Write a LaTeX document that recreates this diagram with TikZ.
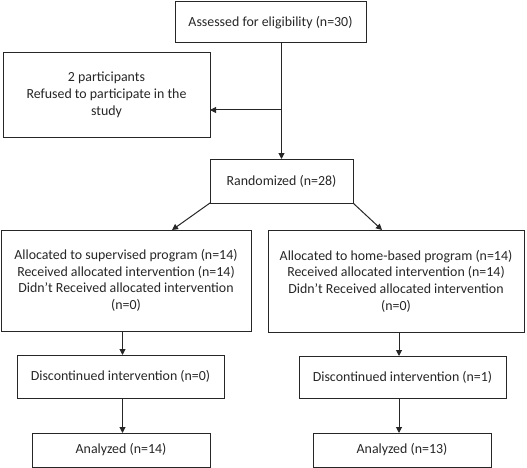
\documentclass[tikz,border=0pt]{standalone}
\usepackage{fontspec}
\defaultfontfeatures{}
\setmainfont{Carlito}
\usetikzlibrary{arrows.meta}
\begin{document}
\begin{tikzpicture}[x=1pt,y=-1pt,
  box/.style={draw=black!85, line width=1pt, inner sep=0pt, outer sep=0pt, align=center,
    text=black!85, font=\fontsize{13.9}{16.7}\selectfont},
  arr/.style={draw=black!85, line width=1pt, -{Triangle[length=6pt,width=6pt]}},
  ln/.style={draw=black!85, line width=1pt}]
\useasboundingbox (0,0) rectangle (527,468);
\node[box, minimum width=191pt, minimum height=41pt] (assess) at (270.5,22.5) {Assessed for eligibility (n=30)};
\node[box, minimum width=207pt, minimum height=84pt] (refused) at (106.5,95) {2 participants\\Refused to participate in the\\study};
\node[box, minimum width=143pt, minimum height=44pt] (rand) at (281.5,181) {Randomized (n=28)};
\node[box, minimum width=250pt, minimum height=101pt] (allocL) at (126,280.5) {Allocated to supervised program (n=14)\\Received allocated intervention (n=14)\\Didn't Received allocated intervention\\(n=0)};
\node[box, minimum width=256pt, minimum height=102pt] (allocR) at (396,281) {Allocated to home-based program (n=14)\\Received allocated intervention (n=14)\\Didn't Received allocated intervention\\(n=0)};
\node[box, minimum width=207pt, minimum height=43pt] (discL) at (120.5,376.5) {Discontinued intervention (n=0)};
\node[box, minimum width=207pt, minimum height=42pt] (discR) at (402.5,377) {Discontinued intervention (n=1)};
\node[box, minimum width=178pt, minimum height=34pt] (anL) at (121,450) {Analyzed (n=14)};
\node[box, minimum width=178pt, minimum height=34pt] (anR) at (402,450) {Analyzed (n=13)};
\coordinate (j) at (281.5,110);
\coordinate (tl) at (172,230);
\coordinate (tr) at (382,230);
\coordinate (cl) at (122.5,0);
\coordinate (cr) at (399,0);
\draw[arr] (assess.south -| rand.north) -- (rand.north);
\draw[arr] (j) -- (refused.east |- j);
\draw[arr] (rand.south west) -- (tl);
\draw[arr] (rand.south east) -- (tr);
\draw[arr] (allocL.south -| cl) -- (discL.north -| cl);
\draw[arr] (discL.south -| cl) -- (anL.north -| cl);
\draw[arr] (allocR.south -| cr) -- (discR.north -| cr);
\draw[arr] (discR.south -| cr) -- (anR.north -| cr);
\end{tikzpicture}
\end{document}
